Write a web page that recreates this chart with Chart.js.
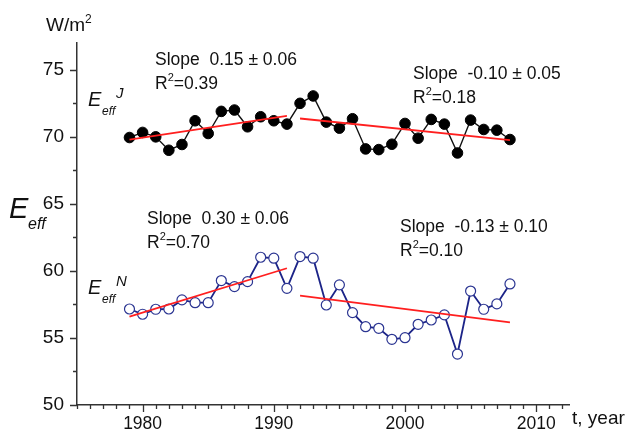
<!DOCTYPE html>
<html><head><meta charset="utf-8">
<script src="https://cdn.jsdelivr.net/npm/chart.js@4.4.1/dist/chart.umd.min.js"></script>
<style>html,body{margin:0;padding:0;background:#fff}#wrap{width:633px;height:435px}</style>
</head><body><div id="wrap"><canvas id="c" width="633" height="435"></canvas></div>
<script>
// ---- data ----
const years = [1979,1980,1981,1982,1983,1984,1985,1986,1987,1988,1989,1990,1991,1992,1993,1994,1995,1996,1997,1998,1999,2000,2001,2002,2003,2004,2005,2006,2007,2008];
const effJ = [69.95,70.33,70.0,69.0,69.43,71.2,70.25,71.9,72.0,70.75,71.5,71.2,70.95,72.5,73.05,71.1,70.65,71.35,69.1,69.05,69.45,71.0,69.9,71.3,70.95,68.8,71.25,70.55,70.5,69.8];
const effN = [57.16,56.77,57.14,57.16,57.84,57.63,57.63,59.28,58.83,59.2,61.02,60.95,58.7,61.07,60.95,57.46,58.96,56.89,55.84,55.72,54.9,55.02,56.02,56.34,56.72,53.8,58.5,57.14,57.54,59.03];
const trendYearsA = [1979, 1991];
const trendYearsB = [1992, 2008];
const trendJA = [69.8, 71.57];
const trendJB = [71.37, 69.75];
const trendNA = [56.59, 60.2];
const trendNB = [58.16, 56.17];
const yTickLabels = [50,55,60,65,70,75];
const xTickLabels = [1980,1990,2000,2010];
const slopeTexts = ["Slope  0.15 \u00B1 0.06","Slope  -0.10 \u00B1 0.05","Slope  0.30 \u00B1 0.06","Slope  -0.13 \u00B1 0.10"];
const r2Texts = ["=0.39","=0.18","=0.70","=0.10"];

const pts = (xs, ys) => xs.map((x,i)=>({x:x, y:ys[i]}));
const FONT = '"Liberation Sans", Arial, sans-serif';

const decor = {
  id:'decor',
  afterDraw(chart){
    const ctx = chart.ctx, xs = chart.scales.x, ys = chart.scales.y;
    ctx.save();
    // tick marks
    ctx.strokeStyle = '#333'; ctx.lineWidth = 1.3;
    ctx.beginPath();
    const yb = ys.getPixelForValue(50);
    for (let yr = 1975; yr <= 2012; yr++) {
      const px = Math.round(xs.getPixelForValue(yr)) + 0.5;
      const len = (yr % 10 === 0) ? 7 : 4;
      ctx.moveTo(px, yb); ctx.lineTo(px, yb + len);
    }
    const xl = xs.getPixelForValue(1975);
    for (let v = 50; v <= 77; v += 2.5) {
      const py = Math.round(ys.getPixelForValue(v)) + 0.5;
      const len = (v % 5 === 0) ? 7 : 4;
      ctx.moveTo(xl, py); ctx.lineTo(xl - len, py);
    }
    ctx.stroke();

    ctx.fillStyle = '#111';
    ctx.textBaseline = 'alphabetic';
    ctx.textAlign = 'left';
    // slope annotations
    const anchors = [[155,65],[413,79],[147,224],[400,232]];
    anchors.forEach((a,i)=>{
      ctx.font = '17.5px ' + FONT;
      ctx.fillText(slopeTexts[i], a[0], a[1]);
      const y2 = a[1] + 24;
      ctx.fillText('R', a[0], y2);
      const w = ctx.measureText('R').width;
      ctx.font = '11px ' + FONT;
      ctx.fillText('2', a[0] + w, y2 - 8);
      const w2 = ctx.measureText('2').width;
      ctx.font = '17.5px ' + FONT;
      ctx.fillText(r2Texts[i], a[0] + w + w2, y2);
    });
    // W/m2
    ctx.font = '19px ' + FONT;
    ctx.fillText('W/m', 46, 31);
    let wm = ctx.measureText('W/m').width;
    ctx.font = '12px ' + FONT;
    ctx.fillText('2', 46 + wm, 23);
    // t, year
    ctx.font = '19px ' + FONT;
    ctx.fillText('t, year', 572, 424);
    // E_eff axis label
    ctx.font = 'italic 29px ' + FONT;
    ctx.fillText('E', 9, 218);
    ctx.font = 'italic 16px ' + FONT;
    ctx.fillText('eff', 28, 229);
    // E_eff^J, E_eff^N
    const lab = (x, yb, sup) => {
      ctx.font = 'italic 20px ' + FONT;
      ctx.fillText('E', x, yb);
      ctx.font = 'italic 12px ' + FONT;
      ctx.fillText('eff', x + 14, yb + 9);
      ctx.font = 'italic 15px ' + FONT;
      ctx.fillText(sup, x + 28, yb - 8);
    };
    lab(88, 106, 'J');
    lab(88, 294, 'N');
    ctx.restore();
  }
};

new Chart(document.getElementById('c'), {
  type: 'line',
  data: {
    datasets: [
      {data: pts(trendYearsA, trendJA), borderColor:'#ff1f1f', borderWidth:1.8, pointRadius:0, order:0},
      {data: pts(trendYearsB, trendJB), borderColor:'#ff1f1f', borderWidth:1.8, pointRadius:0, order:0},
      {data: pts(trendYearsA, trendNA), borderColor:'#ff1f1f', borderWidth:1.8, pointRadius:0, order:0},
      {data: pts(trendYearsB, trendNB), borderColor:'#ff1f1f', borderWidth:1.8, pointRadius:0, order:0},
      {data: pts(years, effJ), borderColor:'#111', borderWidth:1.4, pointRadius:5.3, pointBackgroundColor:'#000', pointBorderColor:'#000', pointBorderWidth:1, order:1},
      {data: pts(years, effN), borderColor:'#1c2488', borderWidth:1.8, pointRadius:5, pointBackgroundColor:'#fff', pointBorderColor:'#2b3592', pointBorderWidth:1.2, order:1}
    ]
  },
  options: {
    responsive:false, animation:false, devicePixelRatio:1,
    layout:{padding:{top:43, right:64, left:0, bottom:0}},
    plugins:{legend:{display:false}, tooltip:{enabled:false}},
    scales:{
      x:{type:'linear', min:1975, max:2012.5,
         afterBuildTicks:s=>{s.ticks = xTickLabels.map(v=>({value:v}));},
         afterFit:s=>{s.height = 30;},
         ticks:{font:{size:17.5, family:FONT}, color:'#111', padding:9, maxRotation:0, autoSkip:false, callback:v=>String(v)},
         grid:{display:false, drawTicks:false},
         border:{display:true, color:'#333', width:1.5}},
      y:{type:'linear', min:50, max:77,
         afterBuildTicks:s=>{s.ticks = yTickLabels.map(v=>({value:v}));},
         afterFit:s=>{s.width = 77;},
         ticks:{font:{size:19, family:FONT}, color:'#111', padding:13, callback:v=>String(v)},
         grid:{display:false, drawTicks:false},
         border:{display:true, color:'#333', width:1.5}}
    }
  },
  plugins:[decor]
});
</script></body></html>
